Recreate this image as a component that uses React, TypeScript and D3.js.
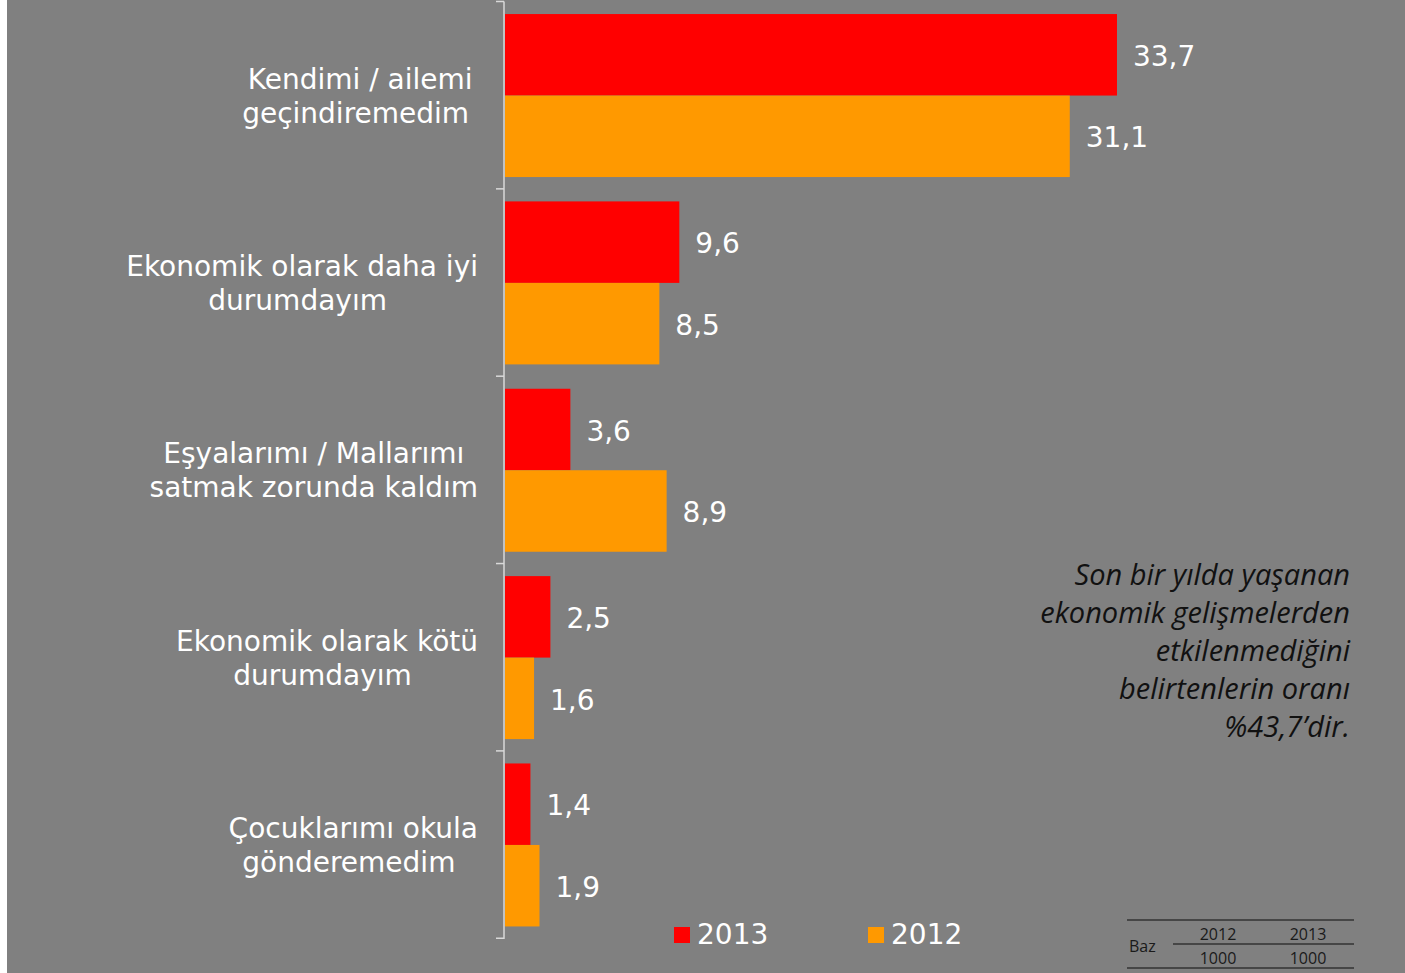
import { useRef, useEffect } from "react";
import * as d3 from "d3";

// category labels, already split into the lines they wrap to
const categories = [
  ["Kendimi / ailemi", "geçindiremedim "],
  ["Ekonomik olarak daha iyi", "durumdayım "],
  ["Eşyalarımı / Mallarımı", "satmak zorunda kaldım"],
  ["Ekonomik olarak kötü", "durumdayım "],
  ["Çocuklarımı okula", "gönderemedim "],
];
const series = ["2013", "2012"];
const values2013 = [33.7, 9.6, 3.6, 2.5, 1.4];
const values2012 = [31.1, 8.5, 8.9, 1.6, 1.9];
const noteLines = [
  "Son bir yılda yaşanan",
  "ekonomik gelişmelerden",
  "etkilenmediğini",
  "belirtenlerin oranı",
  "%43,7’dir.",
];
const bazYears = ["2012", "2013"];
const bazValues = ["1000", "1000"];

const colors: Record<string, string> = { "2013": "#ff0000", "2012": "#ff9900" };

export default function App() {
  const ref = useRef<SVGSVGElement>(null);

  useEffect(() => {
    document.body.style.margin = "0";
    const svg = d3.select(ref.current);
    svg.selectAll("*").remove();

    const W = 1405;
    const H = 973;
    const font = "'DejaVu Sans', Verdana, sans-serif";
    const fmt = d3.formatLocale({
      decimal: ",",
      thousands: ".",
      grouping: [3],
      currency: ["", ""],
    }).format(".1f");

    svg.append("rect").attr("width", W).attr("height", H).attr("fill", "#fff");
    svg.append("rect").attr("x", 7).attr("y", 0).attr("width", W - 7).attr("height", H).attr("fill", "#808080");

    const keys = categories.map((c) => c.join(" "));
    const y0 = d3
      .scaleBand()
      .domain(keys)
      .range([1.5, 939])
      .paddingInner(0.13)
      .paddingOuter(0.067);
    const y1 = d3.scaleBand().domain(series).range([0, y0.bandwidth()]);
    const x = d3.scaleLinear().domain([0, 40]).range([505, 505 + 40 * 18.16]);

    const rows = keys.map((k, i) => ({
      key: k,
      lines: categories[i],
      vals: [
        { s: "2013", v: values2013[i] },
        { s: "2012", v: values2012[i] },
      ],
    }));

    // bars
    const g = svg
      .selectAll("g.cat")
      .data(rows)
      .join("g")
      .attr("class", "cat")
      .attr("transform", (d) => `translate(0,${y0(d.key)})`);

    g.selectAll("rect")
      .data((d) => d.vals)
      .join("rect")
      .attr("x", x(0))
      .attr("y", (d) => y1(d.s)!)
      .attr("width", (d) => x(d.v) - x(0))
      .attr("height", y1.bandwidth())
      .attr("fill", (d) => colors[d.s]);

    g.selectAll("text.val")
      .data((d) => d.vals)
      .join("text")
      .attr("class", "val")
      .attr("x", (d) => x(d.v) + 16)
      .attr("y", (d) => y1(d.s)! + y1.bandwidth() / 2)
      .attr("dy", "0.4em")
      .attr("fill", "#fff")
      .style("font-family", font)
      .style("font-size", "28px")
      .text((d) => fmt(d.v));

    // axis line + ticks at category boundaries
    const [r0, r1] = y0.range();
    const step = y0.step();
    svg
      .append("line")
      .attr("x1", 504)
      .attr("x2", 504)
      .attr("y1", r0)
      .attr("y2", r1)
      .attr("stroke", "#d9d9d9")
      .attr("stroke-width", 1.5);
    svg
      .selectAll("line.tick")
      .data(d3.range(keys.length + 1))
      .join("line")
      .attr("class", "tick")
      .attr("x1", 496)
      .attr("x2", 504)
      .attr("y1", (i) => r0 + i * step)
      .attr("y2", (i) => r0 + i * step)
      .attr("stroke", "#d9d9d9")
      .attr("stroke-width", 1.5);

    // category labels: block right-aligned, lines centred inside it
    const right = 478;
    rows.forEach((row) => {
      const cy = y0(row.key)! + y0.bandwidth() / 2;
      const lg = svg.append("g");
      const texts = lg
        .selectAll("text")
        .data(row.lines)
        .join("text")
        .attr("y", (_, i) => cy + (i - (row.lines.length - 1) / 2) * 34)
        .attr("dy", "0.36em")
        .attr("text-anchor", "middle")
        .attr("fill", "#fff")
        .style("font-family", font)
        .style("font-size", "28px")
        .style("white-space", "pre")
        .text((d) => d);
      const maxW = d3.max(texts.nodes(), (n) => (n as SVGTextElement).getComputedTextLength()) || 0;
      texts.attr("x", right - maxW / 2);
    });

    // legend
    const legendX = [674, 868];
    series.forEach((s, i) => {
      svg.append("rect").attr("x", legendX[i]).attr("y", 927).attr("width", 16).attr("height", 16).attr("fill", colors[s]);
      svg
        .append("text")
        .attr("x", legendX[i] + 23)
        .attr("y", 944)
        .attr("fill", "#fff")
        .style("font-family", font)
        .style("font-size", "28px")
        .text(s);
    });

    // note
    svg
      .append("g")
      .selectAll("text")
      .data(noteLines)
      .join("text")
      .attr("x", 1350)
      .attr("y", (_, i) => 585 + i * 38)
      .attr("text-anchor", "end")
      .attr("fill", "#111")
      .style("font-family", "'Open Sans', Lato, sans-serif")
      .style("font-style", "italic")
      .style("font-size", "29px")
      .text((d) => d);

    // Baz table
    const tf = "'Open Sans', Lato, sans-serif";
    const tc = "#1a1a1a";
    const hl = (x1: number, yy: number) =>
      svg.append("line").attr("x1", x1).attr("x2", 1354).attr("y1", yy).attr("y2", yy).attr("stroke", "#333").attr("stroke-width", 1.5);
    hl(1127, 920);
    hl(1173, 944);
    hl(1127, 968);
    svg.append("text").attr("x", 1129).attr("y", 952).attr("fill", tc).style("font-family", tf).style("font-size", "16px").text("Baz");
    const colX = [1218, 1308];
    bazYears.forEach((t, i) => {
      svg.append("text").attr("x", colX[i]).attr("y", 940).attr("text-anchor", "middle").attr("fill", tc).style("font-family", tf).style("font-size", "16px").text(t);
      svg.append("text").attr("x", colX[i]).attr("y", 964).attr("text-anchor", "middle").attr("fill", tc).style("font-family", tf).style("font-size", "16px").text(bazValues[i]);
    });
  }, []);

  return <svg ref={ref} width={1405} height={973} style={{ display: "block" }} />;
}
